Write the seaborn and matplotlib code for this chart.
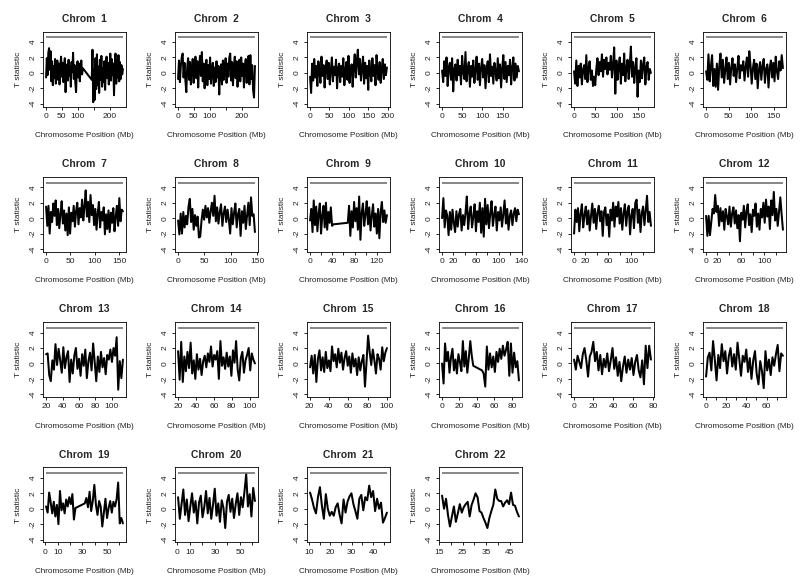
import numpy as np
import pandas as pd
import matplotlib
matplotlib.use("Agg")
import matplotlib.pyplot as plt
import seaborn as sns

# ---------------- data (T statistic along each chromosome, Mb) ----------------
chr1_p = [-0.6, 1.9, -0.3, 2.6, 3.2, 0.4, 2.8, -1.1, 1.5, -1.6, 0.9, -0.7, 1.8, -1.4, 0.5, 1.6, -0.9, 1.2, -1.5, 0.8,
          2.1, -0.5, 1.3, -1.2, 0.6, 1.9, -2.5, 0.2, 1.1, -1.0, 1.7, -0.4, 0.9, -1.8, 1.4, 0.1, 2.6, -0.8, 1.0, -1.3,
          -2.5, 0.7, 1.5, -0.6, 1.2, -1.1, 0.8, 1.6, -0.2, 0.6]
chr1_q = [-0.9, 3.0, -3.8, 0.5, -3.5, 1.9, -2.1, 2.4, -1.6, 0.8, -2.6, 1.7, -0.9, 2.2, -1.8, 0.6, -1.2, 1.5, -2.2, 1.0,
          2.1, -0.7, 1.3, -1.5, 0.4, 2.5, -1.0, 1.8, -0.3, 1.2, -2.9, 0.9, 2.5, -1.4, 1.6, -0.6, 2.3, -1.1, 1.4, -0.8,
          1.0, -0.2, 0.5]
chr2 = [-0.8, 1.6, -1.2, 0.9, 2.0, 2.5, -0.6, 1.3, -1.0, -2.5, 0.8, 1.9, -0.9, 1.4, -1.5, 0.6, 1.8, -1.3, 0.2, 2.1,
        -0.7, 1.5, -1.9, 0.9, 2.2, -0.4, 2.7, -1.1, 1.2, -2.0, 0.5, 1.7, -1.6, 1.0, -0.8, 2.0, -1.4, 0.3, 1.3, -1.7,
        0.7, -1.2, 1.5, -0.6, 0.9, -2.8, 0.4, 1.1, -1.5, 1.6, -0.9, 0.6, 1.9, -1.3, 1.2, -0.5, 2.0, 2.5, -1.0, 1.4,
        -1.6, 0.8, 2.1, -0.7, 1.5, -1.8, 0.5, 1.7, -1.1, 2.0, -0.4, 1.2, -1.9, 0.9, 1.8, -1.3, 0.7, 2.2, -1.5, 2.3,
        -0.8, 1.0, -2.2, -3.2, 0.9]
chr3 = [-0.5, -2.6, 1.2, -1.0, 1.8, -0.6, 0.9, -1.7, 1.5, 0.2, -1.3, 2.1, -0.4, 1.0, -1.9, 0.7, 1.6, -0.8, 1.3, -1.5,
        0.4, 2.0, -1.1, 0.8, -0.3, 1.7, -2.0, 0.6, 1.2, -1.2, 0.9, -0.5, 1.9, -1.6, 0.3, 1.4, -0.9, 2.2, -1.3, 0.5,
        1.1, -1.8, 0.8, 2.4, -0.6, 1.5, 3.0, -0.2, 1.8, -1.0, 0.7, 2.1, -1.4, 1.3, -0.7, 0.9, -2.2, 1.6, 0.2, -1.1,
        1.9, -0.4, 1.0, -1.6, 2.3, 0.1, -0.9, 1.4, -1.3, 0.6, 1.8, -0.8, 1.1, -0.3, 0.7]
chr4 = [0.3, -1.2, 1.5, -0.4, 2.0, -1.7, 0.8, 1.3, -0.9, 1.9, -2.4, 0.5, 1.1, -1.0, 1.7, -0.3, 0.9, -1.5, 2.2, 0.1,
        -0.8, 2.7, -1.1, 0.6, 1.4, -1.8, 0.9, -0.5, 1.6, -1.3, 0.4, 2.1, -0.9, 1.2, -1.6, 0.7, 1.8, -0.6, 1.0, -2.0,
        0.5, 1.5, -1.2, 2.4, -0.4, 0.8, -1.4, 1.3, 0.2, -1.0, 1.9, -0.7, 1.1, -1.9, 0.6, 2.3, -0.8, 1.4, -1.2, 0.9,
        -0.3, 1.7, -1.5, 0.7, 2.0, -1.0, 1.2, -0.6, 0.9, 0.2]
chr5 = [0.2, -1.4, 1.6, -1.7, 0.9, -0.6, 1.2, -1.5, 0.4, 1.0, -0.8, 2.3, -1.2, 0.7, 1.5, -0.9, 0.3, -1.7, -0.5, -1.6,
        0.6, 1.9, -0.3, 1.4, 0.2, 2.4, -0.5, 1.7, 0.5, 2.0, -0.2, 1.3, 0.4, 2.2, -0.6, 1.1, 3.3, -2.7, 1.6, -0.9,
        0.8, 2.0, -1.4, 1.2, -0.3, 2.5, -1.1, 0.6, 1.7, -0.8, 1.0, 3.4, -0.5, 1.4, -1.3, 0.7, 1.9, -3.1, 0.3, -1.2,
        1.6, -0.7, 1.1, 2.0, -1.5, 0.8, 1.4, -0.9, 0.5, 0.0]
chr6 = [0.2, -0.9, 2.4, -1.1, 0.8, 2.3, -1.7, 0.5, -1.8, 1.2, -2.2, 0.9, 2.5, -0.6, 1.7, -1.3, 0.4, 2.0, -0.8, 1.3,
        -1.5, 0.7, 1.9, -0.4, 1.1, -1.2, 0.6, 2.2, -0.7, 1.0, 0.3, 1.5, -1.0, 0.8, 2.0, -0.5, 2.8, 1.0, -1.4, 0.6,
        1.7, -0.8, 1.2, -2.0, 0.4, 1.4, -0.9, 0.9, 1.8, -1.3, 0.5, 1.1, -1.9, 0.7, 1.6, -0.6, 1.3, -1.1, 2.1, 0.2,
        -0.8, 1.5, 0.3, 2.3, 0.6]
chr7 = [1.5, -1.0, 1.6, -2.0, 0.8, -0.5, 1.9, 0.3, 2.3, -0.9, 1.2, -1.3, 0.5, 2.2, -0.7, 1.0, -1.6, 0.6, -2.2, 1.4,
        -2.0, 0.7, -0.4, 1.6, -1.1, 0.9, 2.0, -0.8, 1.3, 0.1, 2.4, -0.3, 1.5, 3.6, 0.2, 2.1, -0.5, 3.0, 0.4, 1.7,
        -0.9, 1.2, -1.5, 0.6, 2.1, -1.2, 0.8, -0.3, 1.4, -2.1, 0.5, -1.4, 1.0, -1.8, 0.7, -0.6, 1.3, -1.7, 0.2, 1.6,
        -1.0, 2.6, -0.4, 1.1, 0.9]
chr8 = [-0.3, -2.1, 0.6, -2.0, 0.8, -1.2, 0.3, -0.8, 1.5, 2.5, -0.5, 1.2, -1.5, 0.4, -1.0, 0.2, -2.5, -2.4, -0.3, 1.1,
        -0.2, 1.6, 0.1, 1.3, -0.6, 0.9, 2.0, 0.3, 2.9, -0.4, 1.4, -0.7, 0.8, 1.8, -1.0, 0.6, 1.5, -0.5, 1.1, -0.2,
        -2.0, 1.3, -0.8, 0.7, 1.9, -1.2, 0.5, 1.2, -2.3, 0.9, -0.6, 1.6, -1.4, 0.4, 2.0, -0.9, 2.7, 0.3, 0.5, -1.8]
chr9_p = [-0.3, 1.2, -1.8, 2.3, -0.9, 1.5, -1.7, 0.6, 1.9, -2.0, 0.3, 1.6, -1.2, 2.0, -1.5, 0.8, -0.6, 1.4, -1.0, -0.8]
chr9_q = [-0.6, 1.6, -2.3, 0.9, -1.2, 2.1, -0.4, 1.3, -1.5, 2.8, -2.8, 0.7, 1.9, -1.0, 0.5, 2.2, -0.8, 1.4, -1.6, 0.3,
          1.8, -1.1, 0.6, -2.0, 1.2, -2.6, 0.8, 2.1, -0.5, 1.0, -0.6, 0.4]
chr10 = [0.0, 2.6, -1.2, 1.0, 0.3, -2.2, 0.8, -1.5, 1.1, -0.6, -1.8, 0.9, -1.1, 0.5, 1.2, -1.6, 0.4, -0.9, 0.7, 2.8,
         -1.4, 0.6, 1.5, -1.2, 0.2, 1.8, -1.7, 0.9, -0.5, 2.0, -1.9, 1.3, -2.4, 2.5, -0.8, 1.7, -1.3, 0.6, 2.2, -1.0,
         0.4, 1.5, -1.6, 0.8, -0.3, 1.4, -1.1, 0.5, 2.3, -0.7, 1.2, -1.5, 0.3, 1.0, -0.9, 0.6, 1.3, -0.4, 1.1, 0.5]
chr11 = [-2.0, 1.1, -0.5, 1.3, -1.7, 0.6, 1.8, -1.2, 0.4, 1.5, -0.8, 1.0, -1.6, 0.3, 1.9, -0.6, 1.2, -1.4, 0.7, 1.6,
         -0.4, 0.9, -2.3, 0.8, 1.4, -0.9, 0.5, -2.4, 1.1, -0.3, 2.0, -1.1, 1.5, 0.2, 2.1, -0.7, 1.3, -1.5, 0.6, 1.8,
         -1.0, 0.9, 1.6, -2.1, 0.4, 1.2, -1.3, 2.0, 2.4, -0.6, 1.1, -1.8, 0.7, 1.5, -0.9, 1.0, 2.9, -0.5, 0.8, -1.0]
chr12 = [0.3, -2.3, 0.3, -2.2, -0.5, 1.2, 0.6, 3.0, 0.8, 1.6, -1.0, 1.3, -0.4, 0.9, -1.5, 1.2, 0.2, -0.8, 1.5, -1.1,
         0.6, 1.4, -0.7, 1.0, -1.3, 0.4, -3.0, 0.7, -0.2, 1.6, -1.2, 0.9, 1.8, -0.9, 0.5, -1.8, 1.1, 0.3, 1.9, -1.1,
         0.6, -1.5, 1.2, 0.1, 2.0, -0.6, 2.4, 0.2, 1.5, -1.4, 2.3, 0.4, 3.4, -0.3, 1.2, -1.0, 0.8, 2.7, 0.5, -1.5]
chr13 = [1.2, 1.3, -1.5, -2.3, 0.4, -0.8, 2.5, -0.2, 1.9, 0.4, -1.2, 2.1, -0.6, 0.8, 1.6, -2.4, 0.5, -1.3, 1.0, 2.0,
         -0.7, 0.6, -1.6, 1.2, -0.3, 1.8, -1.9, 0.3, 1.4, -0.9, 2.6, 0.2, -2.3, 0.9, -1.1, 1.5, -0.5, 0.7, -1.4, 1.1,
         0.5, 1.8, 0.2, 2.0, 1.0, 3.4, -3.4, 0.3, -1.9, 0.5]
chr14 = [1.6, -2.1, 2.8, -2.4, 0.9, -1.0, 1.5, -0.6, 2.7, -1.3, 0.4, -2.0, 1.2, -0.8, 0.6, -1.5, 0.3, 1.0, -0.5, 1.3,
         0.2, 2.2, -0.4, 1.1, 0.5, 1.6, -2.0, 2.9, -0.3, 0.8, -0.7, 1.4, -0.4, 0.9, -1.6, 1.7, 0.1, 2.9, -0.8, -2.2,
         0.7, 1.5, -1.2, 0.4, 1.1, 2.0, -0.9, 1.3, 0.5, 0.0]
chr15 = [-0.5, 1.0, -1.3, 1.1, -2.4, 0.6, 1.7, -0.9, 0.8, -1.1, 1.5, -0.6, 0.4, -1.0, 2.2, 0.3, 1.2, -0.5, 1.9, 0.1,
         1.4, -0.8, 0.7, 1.6, -0.3, 0.9, -1.2, 1.3, -0.4, 0.6, -1.5, 0.8, -0.9, 0.3, 1.1, -3.0, 0.2, 3.6, 1.5, -0.2,
         1.8, 0.4, -1.3, 1.2, 0.6, -0.8, 2.1, 0.3, 1.4, 2.0]
chr16_p = [0.0, -2.6, 2.6, 0.3, 1.5, -1.2, 0.8, 1.9, -0.9, 0.5, -1.3, 1.2, 0.2, -1.0, 2.9, -0.4, 1.6, -1.2, 0.7, 2.9,
           1.0, -0.3]
chr16_q = [-0.9, -1.3, -3.0, 2.2, -0.8, 1.3, -0.5, 0.9, -1.1, 1.5, 0.2, 1.9, 0.6, 2.3, 1.0, 1.8, 2.8, -1.6, 2.6, -1.2,
           1.4, -0.5, 0.3, -2.2]
chr17 = [0.5, -0.8, 1.0, 0.2, -0.6, 1.2, 2.0, 0.4, -1.7, 0.9, 1.5, 2.8, 0.3, 1.5, -0.9, 1.1, -1.4, 0.6, -0.5, 1.3,
         -1.0, 0.4, 2.0, -0.7, 0.8, -1.6, 0.2, -2.3, -0.4, 0.9, -1.2, 0.5, -0.8, 0.7, -1.5, 0.2, 1.1, -0.9, -1.8, 0.4,
         -2.7, 2.3, -0.6, 2.3, 0.5]
chr18 = [-1.7, 0.8, 1.4, -0.9, 2.9, 0.5, -2.2, 1.1, -0.6, 2.5, 0.3, 1.6, -1.3, 0.9, 2.0, -0.4, 1.2, -0.8, 2.7, 0.6,
         -1.6, 1.0, 0.2, 1.8, -1.1, 0.7, -2.0, 0.4, 1.6, -1.4, -2.7, 0.3, -1.0, -3.2, 1.6, -0.9, 0.5, -1.5, 0.8, -0.3,
         1.2, 2.4, -1.0, 1.3, 1.0]
chr19_p = [0.3, -0.5, 2.1, 0.8, -0.6, 0.9, -1.0, 0.5, -2.0, 2.3, -0.2, 0.7, -0.6, 1.2, 0.3, 1.5, 0.6, 1.9, -1.4, 0.1]
chr19_q = [0.7, 1.4, 0.2, 2.2, -0.3, 1.0, 3.1, 0.5, -0.8, 1.0, 0.3, -2.3, -0.5, 1.3, -1.2, 0.1, 1.0, -0.5, 0.9, 0.3,
           1.2, 3.4, -1.9, -1.2, -1.9]
chr20 = [1.5, -1.3, 0.6, 2.5, -0.8, 1.2, -1.6, 0.3, 2.0, -0.5, 1.0, -1.9, 0.8, 1.7, -1.1, 0.2, 2.3, -0.6, 1.4, -1.3,
         0.5, 2.6, -0.9, 0.7, -1.7, 1.1, 0.1, -2.5, 0.9, 1.8, -0.4, 1.3, -1.2, 0.6, 2.0, -0.8, 1.5, 0.2, 2.2, 4.5,
         0.3, 1.9, -1.0, 2.7, 1.0]
chr21 = [2.1, 1.2, 0.1, -0.6, 1.5, 2.8, 0.4, -1.3, 1.9, 0.0, -0.9, -0.4, -0.9, 0.2, 0.7, -0.8, -1.9, 1.2, -0.5, 0.9,
         1.6, 2.0, 0.6, -0.3, -1.3, 1.3, 1.8, -0.2, 1.5, 1.1, 3.0, 1.5, 2.3, -0.3, 1.3, 0.0, 0.8, -1.8, -1.2, -0.5]
chr22 = [1.7, 0.0, 1.3, -0.8, -2.3, -1.0, 0.3, -1.7, -0.6, 0.6, -0.5, 0.2, 0.6, 0.9, -1.0, 0.5, 1.2, 2.0, 1.5, -0.3,
         -0.5, -1.2, -1.8, -2.5, -1.2, -0.3, 0.5, 2.5, 1.3, 1.0, 1.0, 0.3, 0.8, 1.1, 0.6, 2.1, 0.5, 0.4, -0.4, -1.0]

# arm spans in Mb (start, end) matching each value list
segments = {
    1: [((0.5, 116), chr1_p), ((144, 242), chr1_q)],
    2: [((0.5, 242), chr2)],
    3: [((0.5, 198), chr3)],
    4: [((0.5, 190), chr4)],
    5: [((0.5, 180), chr5)],
    6: [((0.5, 170), chr6)],
    7: [((0.5, 158), chr7)],
    8: [((0.5, 146), chr8)],
    9: [((0.5, 42), chr9_p), ((68, 138), chr9_q)],
    10: [((0.5, 135), chr10)],
    11: [((0.5, 134), chr11)],
    12: [((0.5, 132), chr12)],
    13: [((19.5, 114), chr13)],
    14: [((20, 106), chr14)],
    15: [((20.5, 100), chr15)],
    16: [((0.5, 36), chr16_p), ((46, 88), chr16_q)],
    17: [((0.5, 78), chr17)],
    18: [((0.5, 76), chr18)],
    19: [((0.5, 24.4), chr19_p), ((32, 63), chr19_q)],
    20: [((0.5, 62), chr20)],
    21: [((10.5, 46.5), chr21)],
    22: [((16.3, 49), chr22)],
}

# x ticks (positions, labels shown; '' = label dropped for overlap)
xticks = {
    1: ([0, 50, 100, 150, 200], ["0", "50", "100", "", "200"]),
    2: ([0, 50, 100, 150, 200], ["0", "50", "100", "", "200"]),
    3: ([0, 50, 100, 150, 200], ["0", "50", "100", "150", "200"]),
    4: ([0, 50, 100, 150], ["0", "50", "100", "150"]),
    5: ([0, 50, 100, 150], ["0", "50", "100", "150"]),
    6: ([0, 50, 100, 150], ["0", "50", "100", "150"]),
    7: ([0, 50, 100, 150], ["0", "50", "100", "150"]),
    8: ([0, 50, 100, 150], ["0", "50", "100", "150"]),
    9: ([0, 20, 40, 60, 80, 100, 120], ["0", "", "40", "", "80", "", "120"]),
    10: ([0, 20, 40, 60, 80, 100, 120, 140], ["0", "20", "", "60", "", "100", "", "140"]),
    11: ([0, 20, 40, 60, 80, 100, 120], ["0", "20", "", "60", "", "100", ""]),
    12: ([0, 20, 40, 60, 80, 100, 120], ["0", "20", "", "60", "", "100", ""]),
    13: ([20, 40, 60, 80, 100], ["20", "40", "60", "80", "100"]),
    14: ([20, 40, 60, 80, 100], ["20", "40", "60", "80", "100"]),
    15: ([20, 40, 60, 80, 100], ["20", "40", "60", "80", "100"]),
    16: ([0, 20, 40, 60, 80], ["0", "20", "40", "60", "80"]),
    17: ([0, 20, 40, 60, 80], ["0", "20", "40", "60", "80"]),
    18: ([0, 10, 20, 30, 40, 50, 60, 70], ["0", "", "20", "", "40", "", "60", ""]),
    19: ([0, 10, 20, 30, 40, 50, 60], ["0", "10", "", "30", "", "50", ""]),
    20: ([0, 10, 20, 30, 40, 50, 60], ["0", "10", "", "30", "", "50", ""]),
    21: ([10, 15, 20, 25, 30, 35, 40, 45], ["10", "", "20", "", "30", "", "40", ""]),
    22: ([15, 20, 25, 30, 35, 40, 45], ["15", "", "25", "", "35", "", "45"]),
}
yticks = [-4, -2, 0, 2, 4]
threshold = 4.6

# ---------------- style ----------------
sns.set_style("ticks")
plt.rcParams["font.family"] = ["Liberation Sans", "DejaVu Sans"]

W, H = 800, 583
fig = plt.figure(figsize=(W / 100, H / 100), dpi=100)
cell_w, cell_h = 132.0, 145.3
box_l, box_r, box_t, box_b = 43, 126, 31.5, 106.5

for i, chrom in enumerate(range(1, 23)):
    r, c = divmod(i, 6)
    left = (c * cell_w + box_l) / W
    bottom = 1 - (r * cell_h + box_b) / H
    ax = fig.add_axes([left, bottom, (box_r - box_l) / W, (box_b - box_t) / H])

    pos, val = [], []
    for (s, e), vals in segments[chrom]:
        pos.append(np.linspace(s, e, len(vals)))
        val.append(np.asarray(vals, float))
    df = pd.DataFrame({"pos": np.concatenate(pos), "t": np.concatenate(val)})

    sns.lineplot(data=df, x="pos", y="t", ax=ax, color="black", lw=1.45,
                 sort=False, estimator=None)
    ax.hlines(threshold, df.pos.min(), df.pos.max(), color="#666666", lw=1.1)

    span = df.pos.max() - df.pos.min()
    ax.set_xlim(df.pos.min() - 0.04 * span, df.pos.max() + 0.04 * span)
    ax.set_ylim(-4.36, 5.36)

    tp, tl = xticks[chrom]
    ax.set_xticks(tp)
    ax.set_xticklabels(tl)
    ax.set_yticks(yticks)
    ax.set_yticklabels([str(v) for v in yticks], rotation=90, va="center")

    ax.tick_params(axis="both", length=2.4, width=0.6, pad=2.2, labelsize=6.0,
                   color="black", labelcolor="#222222", direction="out")
    for sp in ax.spines.values():
        sp.set_visible(True)
        sp.set_linewidth(0.6)
        sp.set_color("black")

    ax.set_title(f"Chrom  {chrom}", fontsize=7.4, fontweight="bold", pad=7)
    ax.set_xlabel("Chromosome Position (Mb)", fontsize=5.9, color="#222222")
    ax.set_ylabel("T statistic", fontsize=6.0, color="#222222")
    ax.xaxis.set_label_coords(0.5, -0.34)
    ax.yaxis.set_label_coords(-0.255, 0.5)

fig.savefig("out.png", dpi=100, facecolor="white")
